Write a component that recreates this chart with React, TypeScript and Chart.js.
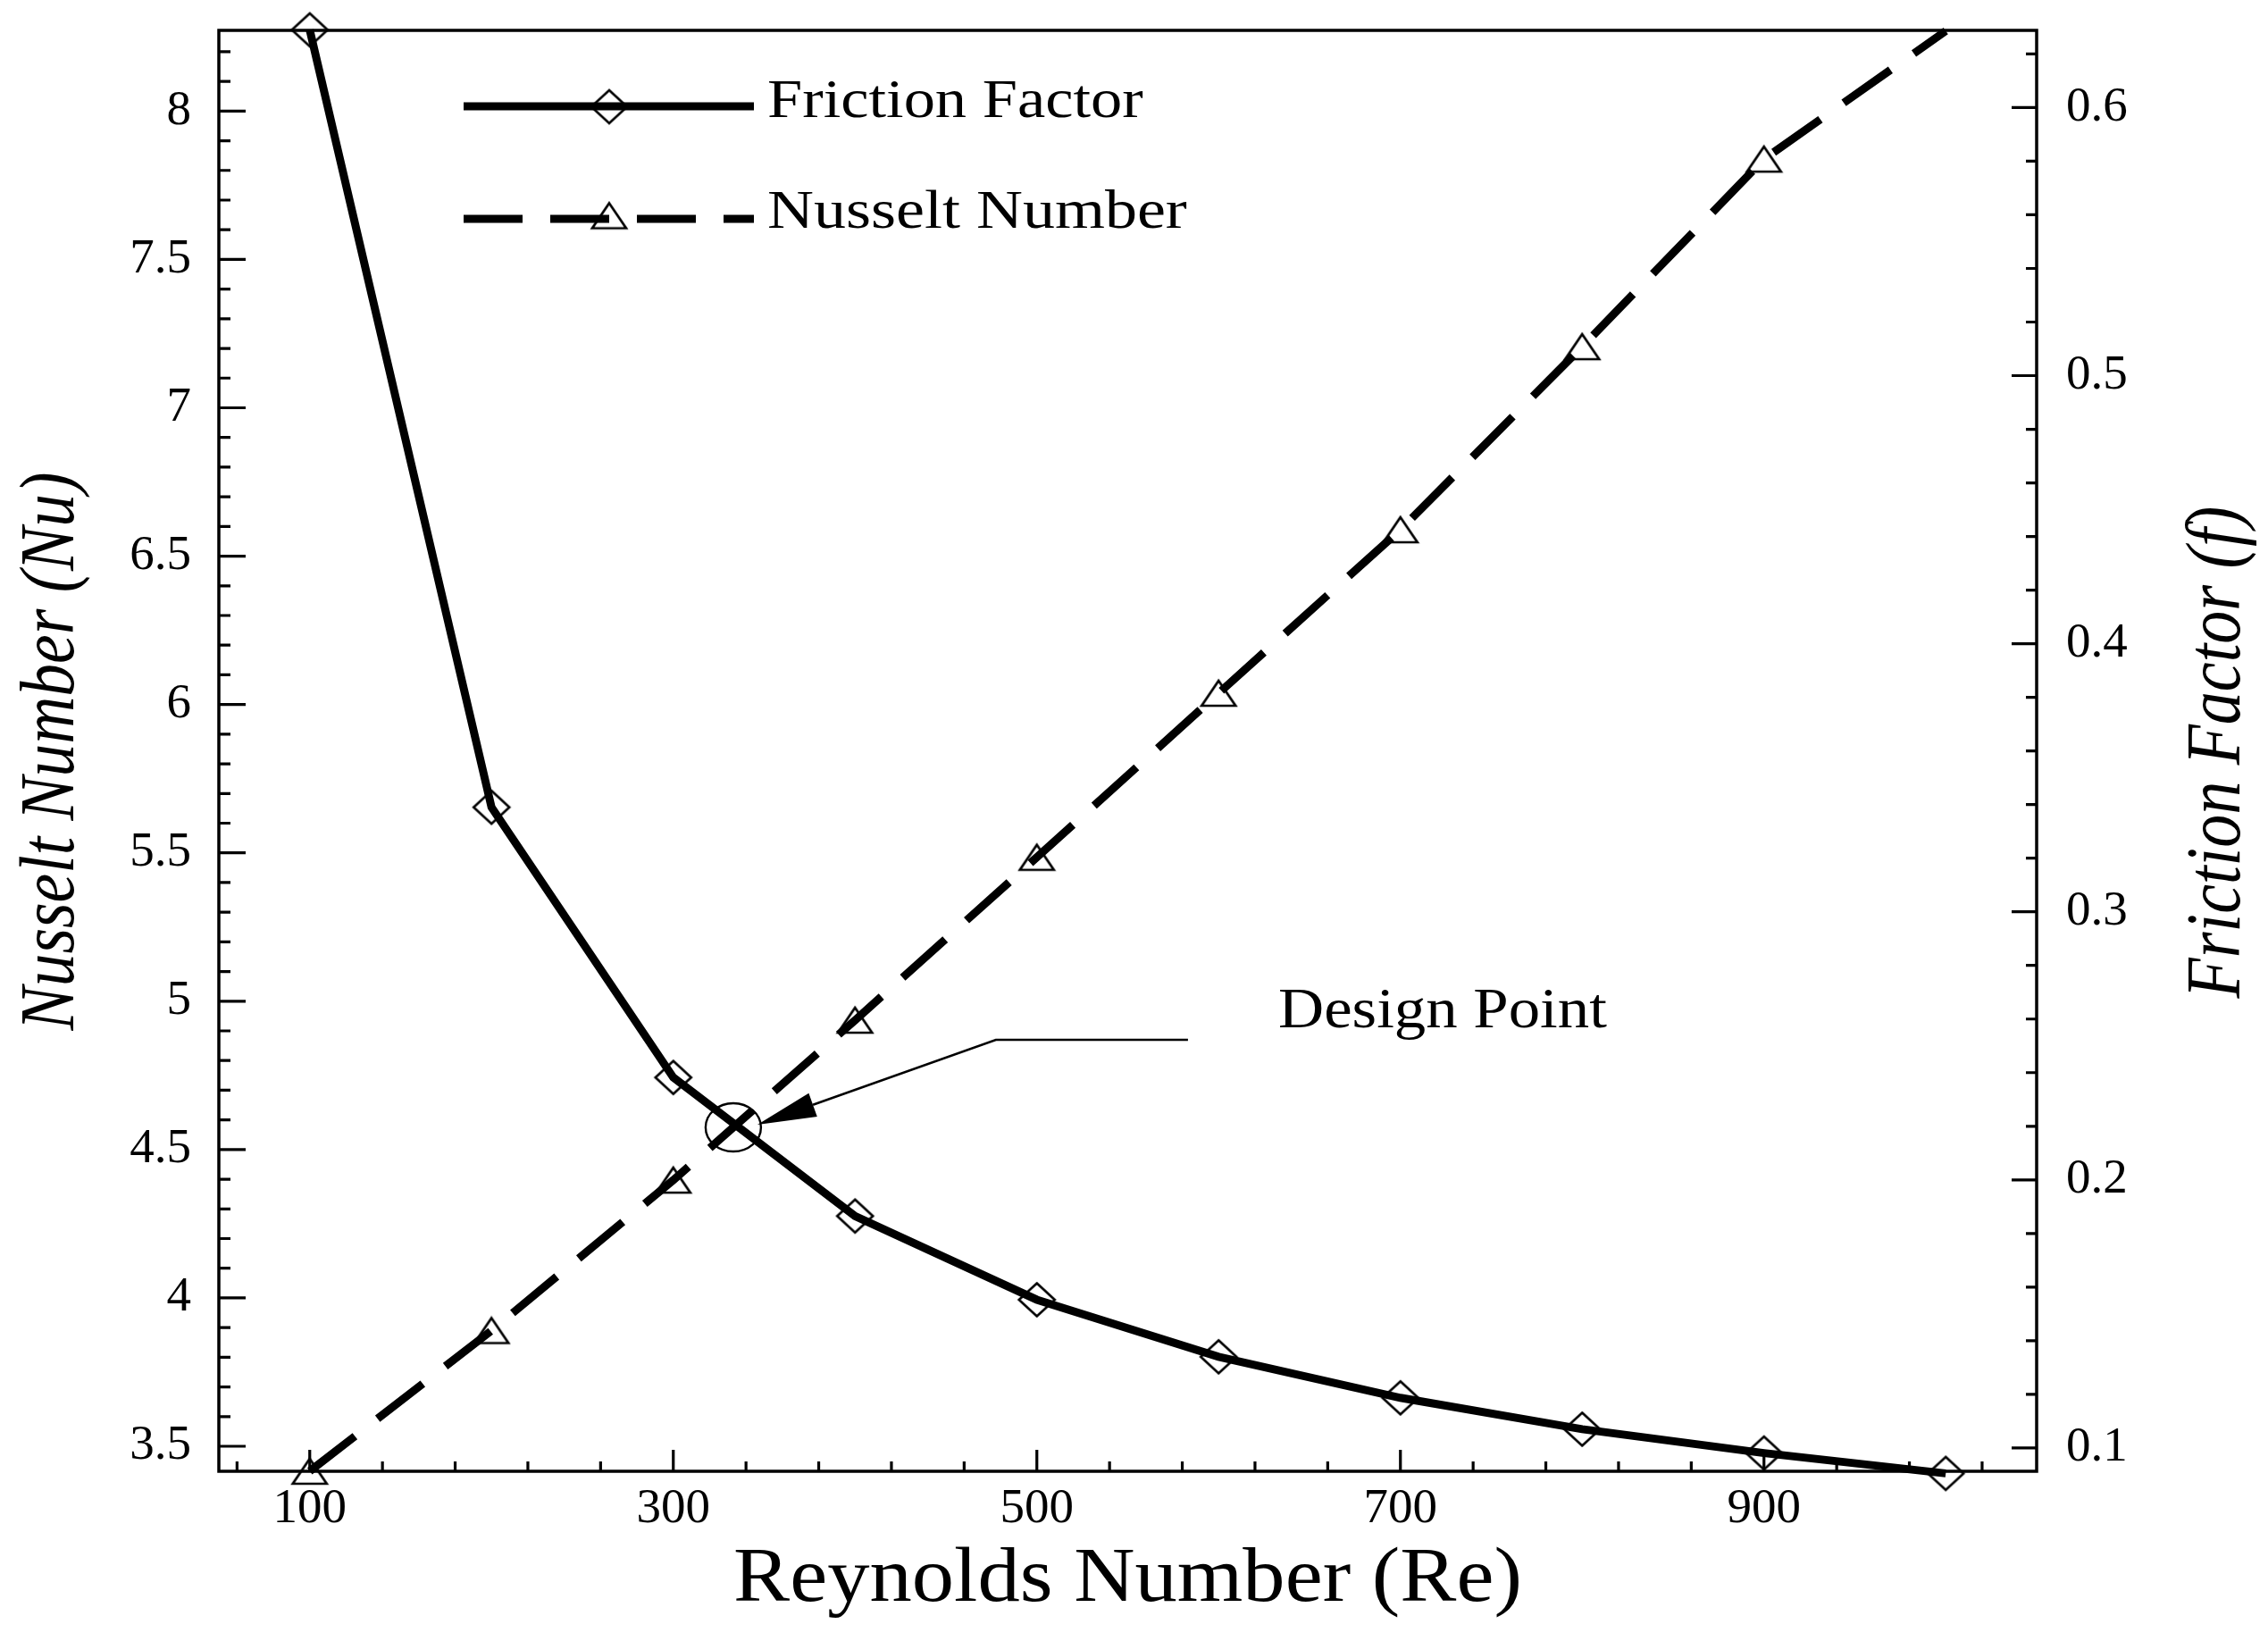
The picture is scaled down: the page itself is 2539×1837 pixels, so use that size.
import React, { useEffect, useRef } from "react";
import { Chart, registerables } from "chart.js";

Chart.register(...registerables);

// ---------------- data ----------------
const REYNOLDS = [100, 200, 300, 400, 500, 600, 700, 800, 900, 1000];
const FRICTION_FACTOR = [0.629, 0.339, 0.2382, 0.1865, 0.1553, 0.134, 0.1187, 0.107, 0.0981, 0.0905];
const NUSSELT_NUMBER = [3.416, 3.89, 4.397, 4.936, 5.485, 6.038, 6.589, 7.206, 7.838, 8.27];
// Tecplot drew no symbol on the last Nusselt point (it sits on the frame)
const NUSSELT_SHOW_SYMBOL = [true, true, true, true, true, true, true, true, true, false];

const SERIES_NAMES = ["Friction Factor", "Nusselt Number"];
const X_TITLE = "Reynolds Number (Re)";
const LEFT_TITLE = "Nusselt Number (Nu)";
const RIGHT_TITLE = "Friction Factor (f)";
const ANNOTATION_TEXT = "Design Point";
const DESIGN_POINT_RE = 333;
const DESIGN_POINT_NU = 4.575;

// axis ranges
const X_MIN = 50;
const X_MAX = 1050;
const NU_MIN = 3.4157;
const NU_MAX = 8.272;
const F_MIN = 0.0913;
const F_MAX = 0.6288;

// tick positions / labels
const X_MAJOR_TICKS = [100, 300, 500, 700, 900];
const X_TICK_LABELS = ["100", "300", "500", "700", "900"];
const X_MINOR_STEP = 40;
const LEFT_MAJOR_TICKS = [3.5, 4, 4.5, 5, 5.5, 6, 6.5, 7, 7.5, 8];
const LEFT_TICK_LABELS = ["3.5", "4", "4.5", "5", "5.5", "6", "6.5", "7", "7.5", "8"];
const LEFT_MINOR_STEP = 0.1;
const RIGHT_MAJOR_TICKS = [0.1, 0.2, 0.3, 0.4, 0.5, 0.6];
const RIGHT_TICK_LABELS = ["0.1", "0.2", "0.3", "0.4", "0.5", "0.6"];
const RIGHT_MINOR_STEP = 0.02;

const FONT = '"Liberation Serif", "Times New Roman", Times, serif';

function tickRange(min: number, max: number, step: number, anchor: number): number[] {
  const out: number[] = [];
  const k0 = Math.ceil((min - anchor) / step - 1e-9);
  for (let k = k0; anchor + k * step <= max + 1e-9; k++) {
    out.push(Math.round((anchor + k * step) * 1e6) / 1e6);
  }
  return out;
}

const X_TICKS = tickRange(X_MIN, X_MAX, X_MINOR_STEP, 100);
const LEFT_TICKS = tickRange(NU_MIN, NU_MAX, LEFT_MINOR_STEP, 3.5);
const RIGHT_TICKS = tickRange(F_MIN, F_MAX, RIGHT_MINOR_STEP, 0.1);

function isMajor(v: number, majors: number[]) {
  return majors.some((m) => Math.abs(m - v) < 1e-6);
}
function labelFor(v: number, majors: number[], labels: string[]) {
  const i = majors.findIndex((m) => Math.abs(m - v) < 1e-6);
  return i >= 0 ? labels[i] : "";
}

function makeDiamond(): HTMLCanvasElement {
  const c = document.createElement("canvas");
  c.width = 46;
  c.height = 42;
  const g = c.getContext("2d")!;
  g.strokeStyle = "#000";
  g.lineWidth = 2.7;
  g.lineJoin = "miter";
  g.beginPath();
  g.moveTo(23, 2.5);
  g.lineTo(43, 21);
  g.lineTo(23, 39.5);
  g.lineTo(3, 21);
  g.closePath();
  g.stroke();
  return c;
}

function makeTriangle(): HTMLCanvasElement {
  const c = document.createElement("canvas");
  c.width = 44;
  c.height = 34;
  const g = c.getContext("2d")!;
  g.strokeStyle = "#000";
  g.lineWidth = 2.7;
  g.beginPath();
  g.moveTo(22, 3);
  g.lineTo(41, 31);
  g.lineTo(3, 31);
  g.closePath();
  g.stroke();
  return c;
}

function stretchedText(
  ctx: CanvasRenderingContext2D,
  text: string,
  x: number,
  y: number,
  font: string,
  sx: number,
  align: CanvasTextAlign,
  rotated: boolean
) {
  ctx.save();
  ctx.translate(x, y);
  ctx.scale(sx, 1);
  if (rotated) ctx.rotate(-Math.PI / 2);
  ctx.font = font;
  ctx.fillStyle = "#000";
  ctx.textAlign = align;
  ctx.textBaseline = "alphabetic";
  ctx.fillText(text, 0, 0);
  ctx.restore();
}

export default function App() {
  const ref = useRef<HTMLCanvasElement | null>(null);

  useEffect(() => {
    document.body.style.margin = "0";
    document.body.style.overflow = "hidden";
    const canvas = ref.current;
    if (!canvas) return;

    const diamond = makeDiamond();
    const triangle = makeTriangle();

    const framePlugin = {
      id: "frameTicks",
      beforeDatasetsDraw(chart: any) {
        const { ctx, chartArea: a, scales } = chart;
        ctx.save();
        ctx.strokeStyle = "#000";
        ctx.lineWidth = 3.5;
        ctx.lineCap = "butt";
        ctx.strokeRect(a.left, a.top, a.right - a.left, a.bottom - a.top);
        ctx.lineWidth = 3.2;
        ctx.beginPath();
        for (const v of X_TICKS) {
          const px = scales.x.getPixelForValue(v);
          const len = isMajor(v, X_MAJOR_TICKS) ? 24 : 11;
          ctx.moveTo(px, a.bottom);
          ctx.lineTo(px, a.bottom - len);
        }
        for (const v of LEFT_TICKS) {
          const py = scales.y.getPixelForValue(v);
          const len = isMajor(v, LEFT_MAJOR_TICKS) ? 30 : 13;
          ctx.moveTo(a.left, py);
          ctx.lineTo(a.left + len, py);
        }
        for (const v of RIGHT_TICKS) {
          const py = scales.y1.getPixelForValue(v);
          const len = isMajor(v, RIGHT_MAJOR_TICKS) ? 28 : 12;
          ctx.moveTo(a.right, py);
          ctx.lineTo(a.right - len, py);
        }
        ctx.stroke();
        ctx.restore();
      },
      afterDatasetsDraw(chart: any) {
        const { ctx, chartArea: a, scales } = chart;
        ctx.save();
        // design point marker + arrow
        const px = scales.x.getPixelForValue(DESIGN_POINT_RE);
        const py = scales.y.getPixelForValue(DESIGN_POINT_NU);
        ctx.strokeStyle = "#000";
        ctx.lineWidth = 2.4;
        ctx.beginPath();
        ctx.ellipse(px, py, 31, 27, 0, 0, Math.PI * 2);
        ctx.stroke();

        const tip = { x: px + 27, y: py - 3 };
        const elbow = { x: px + 294, y: py - 98 };
        const end = { x: px + 509, y: py - 98 };
        let dx = tip.x - elbow.x;
        let dy = tip.y - elbow.y;
        const dl = Math.hypot(dx, dy);
        dx /= dl;
        dy /= dl;
        const headLen = 66;
        const headHalf = 14;
        const base = { x: tip.x - dx * headLen, y: tip.y - dy * headLen };
        ctx.lineWidth = 2.6;
        ctx.beginPath();
        ctx.moveTo(end.x, end.y);
        ctx.lineTo(elbow.x, elbow.y);
        ctx.lineTo(base.x, base.y);
        ctx.stroke();
        ctx.fillStyle = "#000";
        ctx.beginPath();
        ctx.moveTo(tip.x, tip.y);
        ctx.lineTo(base.x - dy * headHalf, base.y + dx * headHalf);
        ctx.lineTo(base.x + dy * headHalf, base.y - dx * headHalf);
        ctx.closePath();
        ctx.fill();

        stretchedText(ctx, ANNOTATION_TEXT, 1431, 1150, `63px ${FONT}`, 1.124, "left", false);

        // legend
        const lx0 = 519;
        const lx1 = 844;
        const ly0 = 119;
        const ly1 = 245;
        ctx.lineWidth = 9;
        ctx.lineCap = "butt";
        ctx.setLineDash([]);
        ctx.beginPath();
        ctx.moveTo(lx0, ly0);
        ctx.lineTo(lx1, ly0);
        ctx.stroke();
        ctx.setLineDash([66, 31]);
        ctx.beginPath();
        ctx.moveTo(lx0, ly1);
        ctx.lineTo(lx1, ly1);
        ctx.stroke();
        ctx.setLineDash([]);
        const mx = (lx0 + lx1) / 2 + 0.5;
        ctx.drawImage(diamond, mx - diamond.width / 2, ly0 + 0.5 - diamond.height / 2);
        ctx.drawImage(triangle, mx - triangle.width / 2, ly1 - 3.5 - triangle.height / 2);
        stretchedText(ctx, SERIES_NAMES[0], 859, 131, `61px ${FONT}`, 1.155, "left", false);
        stretchedText(ctx, SERIES_NAMES[1], 859, 255, `61px ${FONT}`, 1.18, "left", false);

        // axis titles
        stretchedText(ctx, X_TITLE, (a.left + a.right) / 2, 1792, `86px ${FONT}`, 1.1, "center", false);
        stretchedText(ctx, LEFT_TITLE, 82, 841, `italic 73.5px ${FONT}`, 1.17, "center", true);
        stretchedText(ctx, RIGHT_TITLE, 2507, 842, `italic 74px ${FONT}`, 1.18, "center", true);
        ctx.restore();
      },
    };

    const tickFont = { family: FONT, size: 55 };

    const chart = new Chart(canvas, {
      type: "line",
      data: {
        datasets: [
          {
            label: SERIES_NAMES[0],
            data: REYNOLDS.map((x, i) => ({ x, y: FRICTION_FACTOR[i] })),
            yAxisID: "y1",
            borderColor: "#000",
            borderWidth: 9,
            fill: false,
            tension: 0,
            pointStyle: diamond as any,
            pointRadius: 20,
            pointHoverRadius: 20,
            clip: false as any,
          },
          {
            label: SERIES_NAMES[1],
            data: REYNOLDS.map((x, i) => ({ x, y: NUSSELT_NUMBER[i] })),
            yAxisID: "y",
            borderColor: "#000",
            borderWidth: 9,
            borderDash: [64, 32],
            fill: false,
            tension: 0,
            pointStyle: triangle as any,
            pointRadius: NUSSELT_SHOW_SYMBOL.map((s) => (s ? 20 : 0)),
            pointHoverRadius: 20,
            clip: false as any,
          },
        ],
      },
      options: {
        responsive: false,
        maintainAspectRatio: false,
        devicePixelRatio: 1,
        animation: false,
        events: [],
        layout: { padding: { top: 34, left: 0, right: 0, bottom: 0 } },
        plugins: {
          legend: { display: false },
          tooltip: { enabled: false },
          title: { display: false },
        },
        scales: {
          x: {
            type: "linear",
            position: "bottom",
            min: X_MIN,
            max: X_MAX,
            bounds: "data",
            grid: { display: false, drawTicks: false },
            border: { display: false },
            afterBuildTicks: (s: any) => {
              s.ticks = X_TICKS.map((v) => ({ value: v }));
            },
            afterFit: (s: any) => {
              s.height = 190;
              s.paddingLeft = 0;
              s.paddingRight = 0;
              s.paddingTop = 0;
              s.paddingBottom = 0;
            },
            ticks: {
              autoSkip: false,
              maxRotation: 0,
              minRotation: 0,
              padding: 10,
              color: "#000",
              font: tickFont,
              callback: (v: any) => labelFor(Number(v), X_MAJOR_TICKS, X_TICK_LABELS),
            },
          },
          y: {
            type: "linear",
            position: "left",
            min: NU_MIN,
            max: NU_MAX,
            bounds: "data",
            grid: { display: false, drawTicks: false },
            border: { display: false },
            afterBuildTicks: (s: any) => {
              s.ticks = LEFT_TICKS.map((v) => ({ value: v }));
            },
            afterFit: (s: any) => {
              s.width = 245;
              s.paddingLeft = 0;
              s.paddingRight = 0;
              s.paddingTop = 0;
              s.paddingBottom = 0;
            },
            ticks: {
              autoSkip: false,
              padding: 31,
              color: "#000",
              font: tickFont,
              callback: (v: any) => labelFor(Number(v), LEFT_MAJOR_TICKS, LEFT_TICK_LABELS),
            },
          },
          y1: {
            type: "linear",
            position: "right",
            min: F_MIN,
            max: F_MAX,
            bounds: "data",
            grid: { display: false, drawTicks: false },
            border: { display: false },
            afterBuildTicks: (s: any) => {
              s.ticks = RIGHT_TICKS.map((v) => ({ value: v }));
            },
            afterFit: (s: any) => {
              s.width = 259;
              s.paddingLeft = 0;
              s.paddingRight = 0;
              s.paddingTop = 0;
              s.paddingBottom = 0;
            },
            ticks: {
              autoSkip: false,
              padding: 33,
              color: "#000",
              font: tickFont,
              callback: (v: any) => labelFor(Number(v), RIGHT_MAJOR_TICKS, RIGHT_TICK_LABELS),
            },
          },
        },
      } as any,
      plugins: [framePlugin],
    });

    return () => {
      chart.destroy();
    };
  }, []);

  return (
    <canvas
      ref={ref}
      width={2539}
      height={1837}
      style={{ display: "block", width: 2539, height: 1837, background: "#fff" }}
    />
  );
}
